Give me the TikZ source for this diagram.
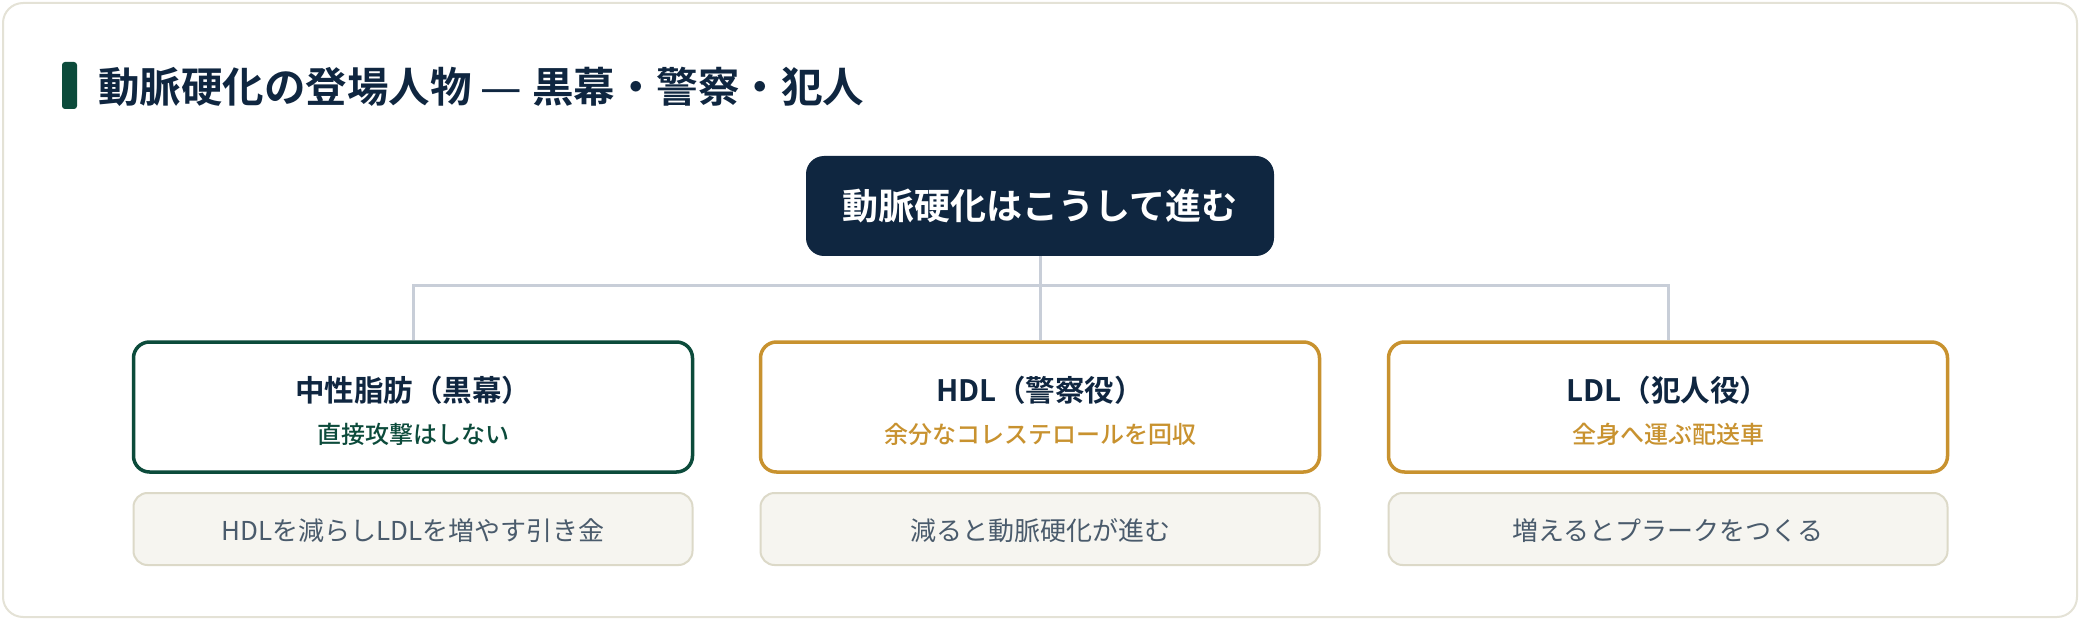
\documentclass[tikz,border=0pt]{standalone}
\usepackage{fontspec}
\usetikzlibrary{backgrounds}
\setmainfont{Noto Sans CJK JP}[BoldFont={Noto Sans CJK JP Bold}]
\newfontfamily\jpmed{Noto Sans CJK JP Medium}
\newfontfamily\dashfont{DejaVu Sans}
\definecolor{navy}{HTML}{0F2640}
\definecolor{deepgreen}{HTML}{0C4B3B}
\definecolor{gold}{HTML}{C8922F}
\definecolor{outerline}{HTML}{E4E2D6}
\definecolor{connline}{HTML}{C8CED8}
\definecolor{notefill}{HTML}{F6F5F0}
\definecolor{noteline}{HTML}{DCD9C8}
\definecolor{notetext}{HTML}{4A5B6C}
\tikzset{
  rolebox/.style={draw, line width=3.5pt, fill=white, rounded corners=16pt,
    minimum width=559pt, minimum height=130pt, inner sep=0pt},
  notebox/.style={draw=noteline, line width=2pt, fill=notefill, rounded corners=14pt,
    minimum width=559pt, minimum height=72pt, inner sep=0pt},
  roletitle/.style={inner sep=0pt, text=navy, font=\bfseries\fontsize{29.5}{35}\selectfont},
  rolesub/.style={inner sep=0pt, font=\jpmed\fontsize{24}{29}\selectfont},
  notetxt/.style={inner sep=0pt, text=notetext, font=\fontsize{26}{31}\selectfont},
  conn/.style={draw=connline, line width=3pt},
}
\begin{document}
\begin{tikzpicture}[x=1pt,y=-1pt]
\useasboundingbox (0,0) rectangle (2080,620);
\begin{scope}[on background layer]
\draw[outerline, line width=2pt, fill=white, rounded corners=20pt] (3,3) rectangle (2077,617);
\end{scope}
% title
\fill[deepgreen, rounded corners=3pt] (62,62) rectangle (77,109);
\node[anchor=base west, inner sep=0pt, text=navy, font=\bfseries\fontsize{41.5}{50}\selectfont] (title) at (98,103)
  {動脈硬化の登場人物\hspace{9pt}{\mdseries\dashfont —}\hspace{10pt}黒幕・警察・犯人};
% top node
\node[fill=navy, rounded corners=18pt, minimum width=468pt, minimum height=100pt, inner sep=0pt,
  text=white, font=\bfseries\fontsize{36}{43}\selectfont] (top) at (1040,206) {動脈硬化はこうして進む};
% boxes
\node[rolebox, draw=deepgreen] (b1) at (413,407) {};
\node[rolebox, draw=gold] (b2) at (1040,407) {};
\node[rolebox, draw=gold] (b3) at (1668,407) {};
\coordinate (j) at (1040,286);
\begin{scope}[on background layer]
\draw[conn] (top.south) -- (j);
\draw[conn] (b1.north) -- (b1.north |- j) -- (b3.north |- j) -- (b3.north);
\draw[conn] (j) -- (b2.north);
\end{scope}
\node[roletitle] (t1) at (413,390) {中性脂肪（黒幕）};
\node[rolesub, text=deepgreen] (s1) at (413,434) {直接攻撃はしない};
\node[roletitle] (t2) at (1040,390) {HDL（警察役）};
\node[rolesub, text=gold] (s2) at (1040,434) {余分なコレステロールを回収};
\node[roletitle] (t3) at (1668,390) {LDL（犯人役）};
\node[rolesub, text=gold] (s3) at (1668,434) {全身へ運ぶ配送車};
% notes
\node[notebox] (n1) at (413,529) {};
\node[notebox] (n2) at (1040,529) {};
\node[notebox] (n3) at (1668,529) {};
\node[notetxt] (m1) at (413,531) {HDLを減らしLDLを増やす引き金};
\node[notetxt] (m2) at (1040,531) {減ると動脈硬化が進む};
\node[notetxt] (m3) at (1668,531) {増えるとプラークをつくる};
\end{tikzpicture}
\end{document}
